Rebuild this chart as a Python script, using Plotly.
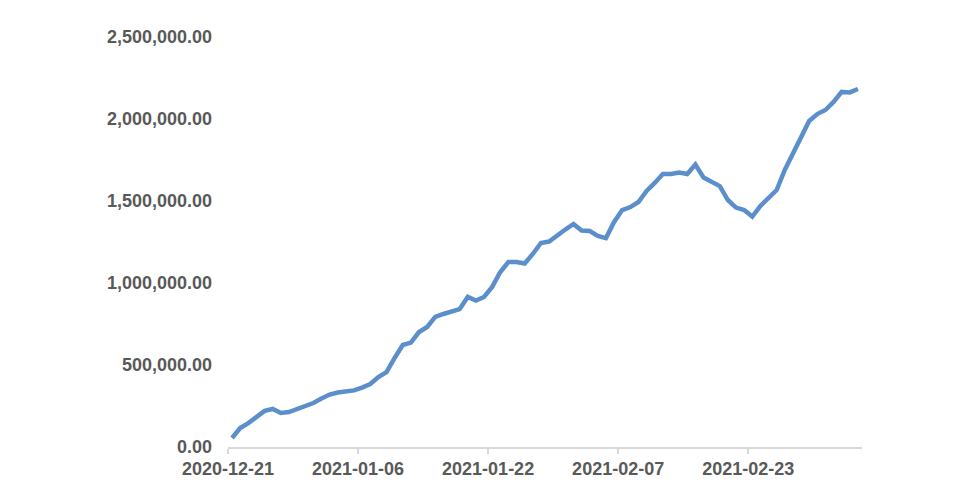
import pandas as pd
import plotly.graph_objects as go

start_date = "2020-12-21"
n_days = 78
dates = pd.date_range(start_date, periods=n_days, freq="D")

values = [
    55000, 116000, 146000, 183000, 220000, 232000, 207000, 213000, 232000, 247000,
    268000, 296000, 320000, 332000, 341000, 345000, 362000, 384000, 427000, 457000,
    543000, 622000, 637000, 701000, 732000, 793000, 811000, 823000, 841000, 915000,
    893000, 915000, 976000, 1067000, 1128000, 1128000, 1119000, 1177000, 1244000, 1253000,
    1293000, 1326000, 1360000, 1320000, 1317000, 1287000, 1274000, 1372000, 1445000, 1463000,
    1494000, 1561000, 1610000, 1665000, 1665000, 1674000, 1665000, 1722000, 1643000, 1619000,
    1591000, 1506000, 1460000, 1445000, 1405000, 1470000, 1518000, 1567000, 1689000, 1787000,
    1890000, 1988000, 2030000, 2055000, 2104000, 2165000, 2162000, 2183000,
]

tick_labels = ["2020-12-21", "2021-01-06", "2021-01-22", "2021-02-07", "2021-02-23"]
y_ticks = [0, 500000, 1000000, 1500000, 2000000, 2500000]

half_day = pd.Timedelta(hours=12)
tick_positions = [pd.Timestamp(t) - half_day for t in tick_labels]

fig = go.Figure()
fig.add_trace(go.Scatter(
    x=dates, y=values, mode="lines",
    line=dict(color="#5B8FCB", width=4.5),
    hoverinfo="skip",
))

font = dict(family="Liberation Sans, Arial, sans-serif", size=18, color="#595959", weight="bold")

fig.update_layout(
    width=960, height=500,
    margin=dict(l=220, r=106, t=29, b=61),
    paper_bgcolor="white", plot_bgcolor="white",
    showlegend=False,
    font=font,
    xaxis=dict(
        range=[dates[0] - half_day, dates[-1] + half_day],
        tickvals=tick_positions, ticktext=tick_labels,
        showgrid=False, zeroline=False,
        showline=True, linecolor="#D9D9D9", linewidth=1.5,
        ticks="outside", ticklen=5, tickcolor="#D9D9D9", tickwidth=1.5,
        tickfont=font,
    ),
    yaxis=dict(
        range=[0, 2500000],
        tickvals=y_ticks, tickformat=",.2f",
        showgrid=False, zeroline=False, showline=False,
        ticks="", ticklabelstandoff=15,
        tickfont=font,
    ),
)

fig.write_html("out.html")
